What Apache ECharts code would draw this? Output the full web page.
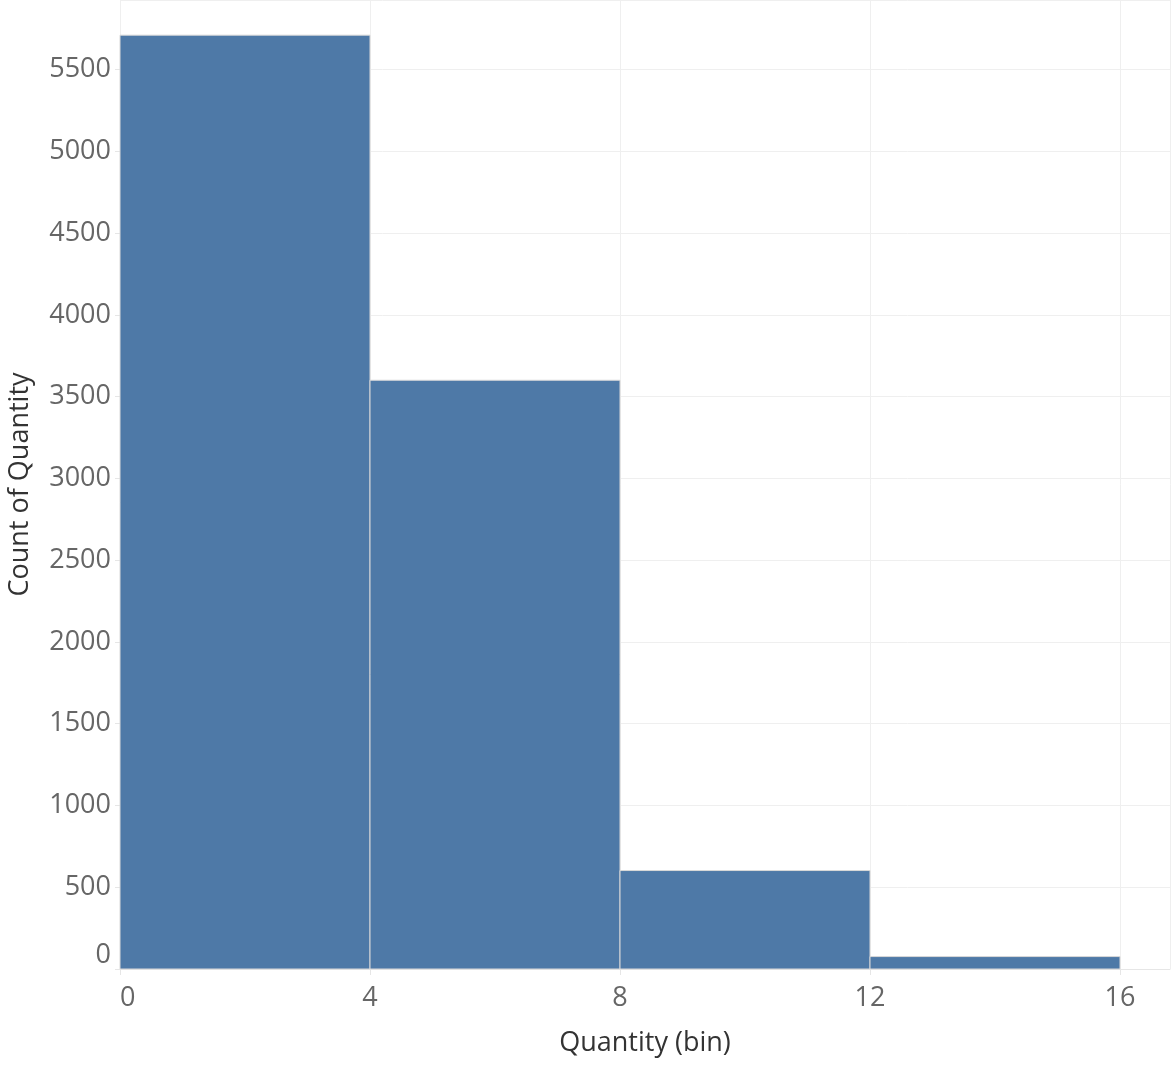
<!DOCTYPE html>
<html>
<head>
<meta charset="utf-8">
<script src="https://cdn.jsdelivr.net/npm/echarts@6/dist/echarts.min.js"></script>
<style>
  html, body { margin: 0; padding: 0; background: #fff; }
  #chart { width: 1172px; height: 1071px; }
</style>
</head>
<body>
<div id="chart"></div>
<script>
// bins of width 4, counts
const binStarts = [0, 4, 8, 12];
const binWidth = 4;
const counts = [5710, 3600, 602, 76];
const xTicks = [0, 4, 8, 12, 16];
const yTicks = [0, 500, 1000, 1500, 2000, 2500, 3000, 3500, 4000, 4500, 5000, 5500];

const barColor = '#4e79a7';
const gridColor = '#efefef';

const chart = echarts.init(document.getElementById('chart'));

const option = {
  animation: false,
  grid: { left: 120, right: 2, top: 0, bottom: 102, outerBoundsMode: 'none', containLabel: false },
  xAxis: {
    type: 'value',
    min: 0,
    max: 16.8,
    interval: 4,
    name: 'Quantity (bin)',
    nameLocation: 'middle',
    nameGap: 61,
    nameTextStyle: { fontFamily: 'Open Sans', fontSize: 27, color: '#333', fontWeight: 500 },
    axisLine: { show: true, lineStyle: { color: '#e6e6e6' } },
    axisTick: { show: true, length: 6, lineStyle: { color: '#e6e6e6' } },
    axisLabel: {
      fontFamily: 'Open Sans', fontSize: 27, color: '#666', margin: 16,
      alignMinLabel: 'left',
      showMaxLabel: false,
      formatter: v => (xTicks.includes(v) ? String(v) : '')
    },
    splitLine: { show: true, lineStyle: { color: gridColor } }
  },
  yAxis: {
    type: 'value',
    min: 0,
    max: 5925,
    interval: 500,
    name: 'Count of Quantity',
    nameLocation: 'middle',
    nameGap: 86,
    nameTextStyle: { fontFamily: 'Open Sans', fontSize: 27, color: '#333', fontWeight: 500 },
    axisLine: { show: false },
    axisTick: { show: true, length: 5, lineStyle: { color: '#e6e6e6' } },
    axisLabel: {
      fontFamily: 'Open Sans', fontSize: 27, color: '#666', margin: 9,
      verticalAlignMinLabel: 'bottom',
      showMaxLabel: false,
      formatter: v => (yTicks.includes(v) ? String(v) : '')
    },
    splitLine: { show: true, lineStyle: { color: gridColor } }
  },
  series: [{
    type: 'custom',
    data: binStarts.map((s, i) => [s, s + binWidth, counts[i]]),
    encode: { x: [0, 1], y: 2 },
    renderItem: (params, api) => {
      const p0 = api.coord([api.value(0), api.value(2)]);
      const p1 = api.coord([api.value(1), 0]);
      return {
        type: 'rect',
        shape: { x: p0[0], y: p0[1], width: p1[0] - p0[0], height: p1[1] - p0[1] },
        style: { fill: barColor, stroke: '#d9d9d9', lineWidth: 1 }
      };
    }
  }]
};

chart.setOption(option);
</script>
</body>
</html>
